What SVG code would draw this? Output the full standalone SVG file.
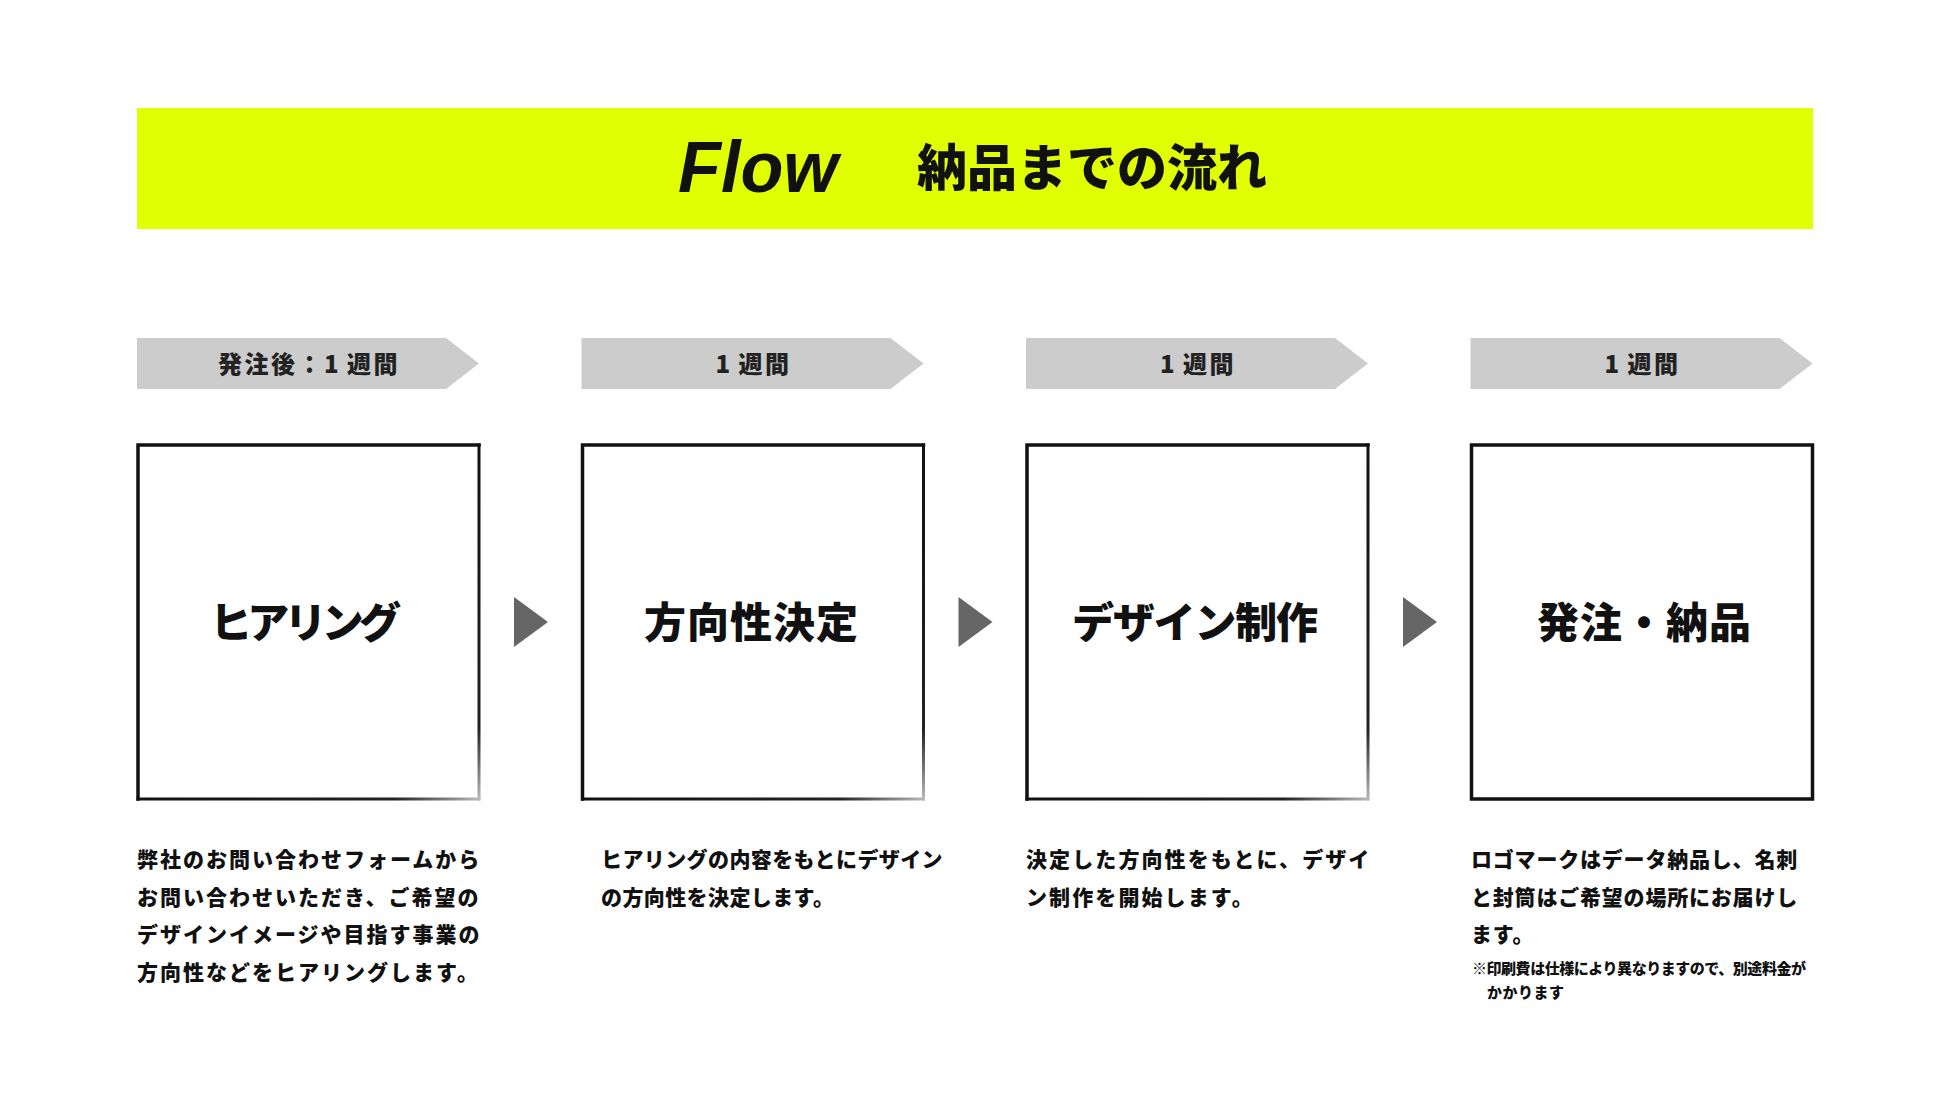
<svg xmlns="http://www.w3.org/2000/svg" width="1950" height="1118" viewBox="0 0 1950 1118">
  <style>
    .jp { font-family: "Noto Sans CJK JP", "Noto Sans", sans-serif; font-weight: 900; fill: #111; }
    .tagtxt { font-size: 24px; letter-spacing: 2.5px; text-anchor: middle; fill: #222; }
    .title { font-size: 42px; letter-spacing: 1px; }
    .desc { font-size: 21px; }
    .note { font-size: 15px; }
    .tag { fill: #cccccc; }
    .tri { fill: #666666; }
    .edge { fill: none; stroke: #111; stroke-width: 3.5; stroke-linecap: square; }
  </style>
  <defs>
    <linearGradient id="fadeV" x1="0" y1="0" x2="0" y2="1">
      <stop offset="0" stop-color="#111"/>
      <stop offset="0.8" stop-color="#222"/>
      <stop offset="1" stop-color="#bbb"/>
    </linearGradient>
    <linearGradient id="fadeH" x1="0" y1="0" x2="1" y2="0">
      <stop offset="0" stop-color="#111"/>
      <stop offset="0.75" stop-color="#222"/>
      <stop offset="1" stop-color="#bbb"/>
    </linearGradient>
  </defs>
  <rect width="1950" height="1118" fill="#ffffff"/>

  <g id="header">
    <rect x="137" y="108" width="1676" height="121" fill="#e1ff03"/>
    <text x="678" y="192" font-family="Liberation Sans, Arial, sans-serif" font-style="italic" font-weight="700" font-size="72" textLength="160" lengthAdjust="spacingAndGlyphs" fill="#111">Flow</text>
    <text class="jp" x="917" y="186" font-size="50">納品までの流れ</text>
  </g>

  <g id="tags">
    <g id="tag1">
      <polygon class="tag" points="137,338 446,338 479,363.5 446,389 137,389"/>
      <text class="jp tagtxt" x="309" y="373">発注後：1<tspan dx="6">週間</tspan></text>
    </g>
    <g id="tag2">
      <polygon class="tag" points="581.5,338 890.5,338 923.5,363.5 890.5,389 581.5,389"/>
      <text class="jp tagtxt" x="753.5" y="373">1<tspan dx="6">週間</tspan></text>
    </g>
    <g id="tag3">
      <polygon class="tag" points="1026,338 1335,338 1368,363.5 1335,389 1026,389"/>
      <text class="jp tagtxt" x="1198" y="373">1<tspan dx="6">週間</tspan></text>
    </g>
    <g id="tag4">
      <polygon class="tag" points="1470.5,338 1779.5,338 1812.5,363.5 1779.5,389 1470.5,389"/>
      <text class="jp tagtxt" x="1642.5" y="373">1<tspan dx="6">週間</tspan></text>
    </g>
  </g>

  <g id="step1">
    <rect x="138" y="445" width="341" height="354" fill="#fff"/>
    <path class="edge" d="M138,799 V445 H479"/>
    <rect x="477.5" y="443.5" width="3" height="357" fill="url(#fadeV)"/>
    <rect x="136.5" y="797.5" width="344" height="3" fill="url(#fadeH)"/>
    <text class="jp title" x="210" y="638" textLength="192" lengthAdjust="spacing">ヒアリング</text>
  </g>
  <g id="step2">
    <rect x="582.5" y="445" width="341" height="354" fill="#fff"/>
    <path class="edge" d="M582.5,799 V445 H923.5"/>
    <rect x="922" y="443.5" width="3" height="357" fill="url(#fadeV)"/>
    <rect x="581" y="797.5" width="344" height="3" fill="url(#fadeH)"/>
    <text class="jp title" x="644" y="638">方向性決定</text>
  </g>
  <g id="step3">
    <rect x="1027" y="445" width="341" height="354" fill="#fff"/>
    <path class="edge" d="M1027,799 V445 H1368"/>
    <rect x="1366.5" y="443.5" width="3" height="357" fill="url(#fadeV)"/>
    <rect x="1025.5" y="797.5" width="344" height="3" fill="url(#fadeH)"/>
    <text class="jp title" x="1072" y="638" textLength="247" lengthAdjust="spacing">デザイン制作</text>
  </g>
  <g id="step4">
    <rect class="edge" x="1471.5" y="445" width="341" height="354" fill="#fff"/>
    <text class="jp title" x="1537" y="638">発注・納品</text>
  </g>

  <g id="connectors">
    <polygon class="tri" points="514,597 548,622 514,647"/>
    <polygon class="tri" points="958.5,597 992.5,622 958.5,647"/>
    <polygon class="tri" points="1403,597 1437,622 1403,647"/>
  </g>

  <g id="desc1" class="jp desc" letter-spacing="2">
    <text x="137" y="867">弊社のお問い合わせフォームから</text>
    <text x="137" y="904.5">お問い合わせいただき、ご希望の</text>
    <text x="137" y="942">デザインイメージや目指す事業の</text>
    <text x="137" y="979.5">方向性などをヒアリングします。</text>
  </g>
  <g id="desc2" class="jp desc" letter-spacing="0.4">
    <text x="601" y="867">ヒアリングの内容をもとにデザイン</text>
    <text x="601" y="904.5">の方向性を決定します。</text>
  </g>
  <g id="desc3" class="jp desc" letter-spacing="2.1">
    <text x="1026" y="867">決定した方向性をもとに、デザイ</text>
    <text x="1026" y="904.5">ン制作を開始します。</text>
  </g>
  <g id="desc4" class="jp desc" letter-spacing="0.8">
    <text x="1471" y="867">ロゴマークはデータ納品し、名刺</text>
    <text x="1471" y="904.5">と封筒はご希望の場所にお届けし</text>
    <text x="1471" y="942">ます。</text>
    <text class="note" x="1472" y="974" letter-spacing="0" textLength="334" lengthAdjust="spacing">※印刷費は仕様により異なりますので、別途料金が</text>
    <text class="note" x="1487" y="998" letter-spacing="0.5">かかります</text>
  </g>
</svg>
